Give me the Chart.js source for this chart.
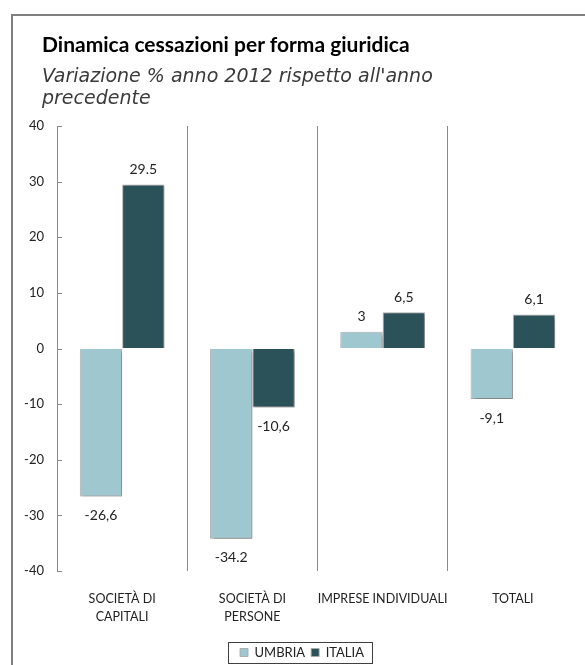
<!DOCTYPE html>
<html>
<head>
<meta charset="utf-8">
<script src="https://cdn.jsdelivr.net/npm/chart.js@4.4.1/dist/chart.umd.min.js"></script>
<style>
  html, body { margin: 0; padding: 0; background: #ffffff; overflow: hidden; }
  body { width: 585px; height: 665px; position: relative; font-family: Lato, "Open Sans", sans-serif; }
  #title { position: absolute; left: 42px; top: 31px; font: bold 21px Lato, sans-serif; color: #000; white-space: nowrap; }
  #subtitle { position: absolute; left: 42px; top: 64px; font: oblique 19px "DejaVu Sans", sans-serif; color: #3a3a3a;
              line-height: 22px; white-space: nowrap; }
  canvas { position: absolute; left: 0; top: 0; }
</style>
</head>
<body>
<canvas id="c" width="585" height="665"></canvas>
<div id="title">Dinamica cessazioni per forma giuridica</div>
<div id="subtitle">Variazione % anno 2012 rispetto all'anno<br>precedente</div>
<script>
// ---- data ----
const categories = [["SOCIETÀ DI", "CAPITALI"], ["SOCIETÀ DI", "PERSONE"], "IMPRESE INDIVIDUALI", "TOTALI"];
const seriesNames = ["UMBRIA", "ITALIA"];
const umbria = [-26.6, -34.2, 3, -9.1];
const italia = [29.5, -10.6, 6.5, 6.1];
const umbriaLabels = ["-26,6", "-34.2", "3", "-9,1"];
const italiaLabels = ["29.5", "-10,6", "6,5", "6,1"];
const yMin = -40, yMax = 40, yStep = 10;

const colors = ["#9FC7CF", "#2C5259"];
const valueLabels = [umbriaLabels, italiaLabels];

const framePlugin = {
  id: 'frame',
  beforeDraw(chart) {
    const ctx = chart.ctx;
    ctx.save();
    ctx.strokeStyle = '#7f7f7f';
    ctx.lineWidth = 2;
    ctx.beginPath();
    ctx.moveTo(12, chart.height);
    ctx.lineTo(12, 15);
    ctx.lineTo(chart.width, 15);
    ctx.stroke();
    ctx.restore();
  },
  afterLayout(chart) {
    if (chart.legend) { chart.legend.left += 7; chart.legend.right += 7; }
  }
};

const yTickPlugin = {
  id: 'yInnerTicks',
  afterDraw(chart) {
    const s = chart.scales.y;
    const ctx = chart.ctx;
    ctx.save();
    ctx.strokeStyle = '#8a8a8a';
    ctx.lineWidth = 1;
    ctx.beginPath();
    s.ticks.forEach(t => {
      const y = Math.round(s.getPixelForValue(t.value)) + 0.5;
      ctx.moveTo(s.right, y);
      ctx.lineTo(s.right + 5, y);
    });
    ctx.stroke();
    ctx.restore();
  }
};

const shadowPlugin = {
  id: 'barShadow',
  beforeDatasetsDraw(chart) {
    const ctx = chart.ctx;
    ctx.save();
    ctx.shadowColor = 'rgba(0,0,0,0.35)';
    ctx.shadowBlur = 3;
    ctx.shadowOffsetX = 2;
    ctx.shadowOffsetY = 2;
  },
  afterDatasetsDraw(chart) {
    chart.ctx.restore();
  }
};

const labelPlugin = {
  id: 'valueLabels',
  afterDraw(chart) {
    const ctx = chart.ctx;
    ctx.save();
    ctx.font = '14px Lato, sans-serif';
    ctx.fillStyle = '#222';
    ctx.textAlign = 'center';
    ctx.textBaseline = 'middle';
    chart.data.datasets.forEach((ds, di) => {
      const meta = chart.getDatasetMeta(di);
      meta.data.forEach((bar, i) => {
        const v = ds.data[i];
        const y = v >= 0 ? bar.y - 15 : bar.y + 19;
        ctx.fillText(valueLabels[di][i], bar.x, y);
      });
    });
    ctx.restore();
  }
};

const legendBoxPlugin = {
  id: 'legendBox',
  afterDraw(chart) {
    const boxes = chart.legend && chart.legend.legendHitBoxes;
    if (!boxes || !boxes.length) return;
    let l = Infinity, r = -Infinity, t = Infinity, b = -Infinity;
    boxes.forEach(h => { l = Math.min(l, h.left); r = Math.max(r, h.left + h.width); t = Math.min(t, h.top); b = Math.max(b, h.top + h.height); });
    const ctx = chart.ctx;
    ctx.save();
    ctx.strokeStyle = '#404040';
    ctx.lineWidth = 1;
    ctx.strokeRect(Math.round(l - 12) + 0.5, Math.round(t - 4) + 0.5, Math.round(r - l + 20), Math.round(b - t + 8));
    ctx.restore();
  }
};

new Chart(document.getElementById('c'), {
  type: 'bar',
  data: {
    labels: categories,
    datasets: [
      { label: seriesNames[0], data: umbria, backgroundColor: colors[0], borderColor: 'rgba(170,170,170,0.9)', borderWidth: 1,
        categoryPercentage: 0.65, barPercentage: 1.0 },
      { label: seriesNames[1], data: italia, backgroundColor: colors[1], borderColor: 'rgba(170,170,170,0.9)', borderWidth: 1,
        categoryPercentage: 0.65, barPercentage: 1.0 }
    ]
  },
  options: {
    responsive: false,
    animation: false,
    devicePixelRatio: 1,
    layout: { padding: { top: 126, left: 12, right: 7, bottom: -4 } },
    plugins: {
      title: { display: false },
      tooltip: { enabled: false },
      legend: {
        position: 'bottom',
        labels: {
          boxWidth: 8, boxHeight: 8, padding: 6,
          color: '#222',
          font: { family: 'Lato, sans-serif', size: 13 }
        }
      }
    },
    scales: {
      x: {
        afterFit(scale) { scale.height = 69; },
        grid: {
          offset: true,
          drawTicks: false,
          color: (ctx) => (ctx.index === undefined || ctx.index === 0 || ctx.index >= categories.length) ? 'rgba(0,0,0,0)' : '#8a8a8a',
          lineWidth: 1
        },
        border: { display: false },
        ticks: {
          color: '#222', padding: 19, maxRotation: 0, autoSkip: false,
          font: { family: 'Lato, sans-serif', size: 12.5, lineHeight: 1.45 }
        }
      },
      y: {
        min: yMin, max: yMax,
        afterFit(scale) { scale.width = 45; },
        grid: { drawOnChartArea: false, drawTicks: false },
        border: { display: true, color: '#8a8a8a', width: 1 },
        ticks: {
          stepSize: yStep, color: '#222', padding: 13,
          font: { family: 'Lato, sans-serif', size: 13 }
        }
      }
    }
  },
  plugins: [framePlugin, yTickPlugin, shadowPlugin, labelPlugin, legendBoxPlugin]
});
</script>
</body>
</html>
